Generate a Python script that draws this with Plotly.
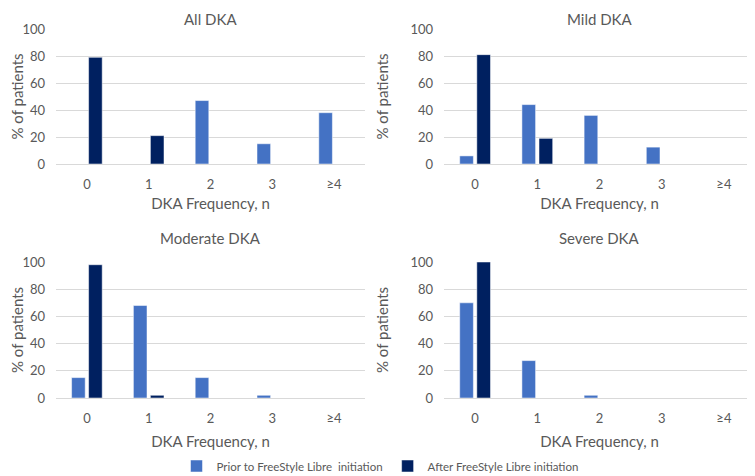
import plotly.graph_objects as go

# ---------------- Data ----------------

categories = ["0", "1", "2", "3", "≥4"]

panel_titles = ["All DKA", "Mild DKA", "Moderate DKA", "Severe DKA"]

prior_all = [0, 0, 47, 15, 38]
after_all = [79, 21, 0, 0, 0]

prior_mild = [6, 44, 36, 12.5, 0]
after_mild = [81, 19, 0, 0, 0]

prior_moderate = [15, 68, 15, 2, 0]
after_moderate = [98, 2, 0, 0, 0]

prior_severe = [70, 27.5, 2, 0, 0]
after_severe = [100, 0, 0, 0, 0]

prior_name = "Prior to FreeStyle Libre  initiation"
after_name = "After FreeStyle Libre initiation"

# ---------------- Style ----------------

PRIOR_COLOR = "#4472C4"
AFTER_COLOR = "#002060"
TEXT = "#595959"
GRID = "#D9D9D9"
FONT = "Lato"

W, H = 755, 476
OFF = 8  # page offset of the plot div (body margin)

# pixel boxes of the four plot areas on the page:
# (x0, x1, y_top, y_bottom, x-title standoff)
boxes = [
    (56, 365, 29, 164, 7),
    (444, 755, 29, 164, 7),
    (56, 365, 262, 398, 11),
    (444, 755, 262, 398, 11),
]


def px(x):
    return min((x - OFF) / W, 1)


def py(y):
    return min((H - (y - OFF)) / H, 1)


series = [
    (prior_all, after_all),
    (prior_mild, after_mild),
    (prior_moderate, after_moderate),
    (prior_severe, after_severe),
]

fig = go.Figure()
layout = {}
annotations = []

for i, ((prior, after), (x0, x1, yt, yb, sx)) in enumerate(zip(series, boxes)):
    n = "" if i == 0 else str(i + 1)
    xa, ya = "x" + n, "y" + n

    fig.add_trace(go.Bar(
        x=categories, y=prior, name=prior_name, xaxis=xa, yaxis=ya,
        marker=dict(color=PRIOR_COLOR, line=dict(color="white", width=0.5)),
        showlegend=(i == 0), legendgroup="prior",
    ))
    fig.add_trace(go.Bar(
        x=categories, y=after, name=after_name, xaxis=xa, yaxis=ya,
        marker=dict(color=AFTER_COLOR, line=dict(color="white", width=0.5)),
        showlegend=(i == 0), legendgroup="after",
    ))

    layout["xaxis" + n] = dict(
        domain=[px(x0), px(x1)], anchor=ya, automargin=False,
        showgrid=False, showline=True, linecolor=GRID, linewidth=1,
        ticks="", ticklabelstandoff=8,
        tickfont=dict(size=13, color=TEXT, family=FONT),
        title=dict(text="DKA Frequency, n", standoff=sx,
                   font=dict(size=15, color=TEXT, family=FONT)),
    )
    layout["yaxis" + n] = dict(
        domain=[py(yb), py(yt)], anchor=xa, automargin=False,
        range=[0, 100], tickvals=[0, 20, 40, 60, 80, 100],
        showgrid=True, gridcolor=GRID, zeroline=False,
        ticks="", ticklabelstandoff=10,
        tickfont=dict(size=13, color=TEXT, family=FONT),
        title=dict(text="% of patients", standoff=18,
                   font=dict(size=15, color=TEXT, family=FONT)),
    )

    # panel titles: top row pinned to the top edge so they are not clipped
    top_row = i < 2
    annotations.append(dict(
        text=panel_titles[i], xref="paper", yref="paper",
        x=(px(x0) + px(x1)) / 2,
        y=1 if top_row else py(yt - 24),
        xanchor="center", yanchor="top" if top_row else "middle",
        showarrow=False,
        font=dict(size=15, color=TEXT, family=FONT),
    ))

fig.update_layout(
    **layout,
    annotations=annotations,
    width=W,
    height=H,
    margin=dict(l=0, r=0, t=0, b=0),
    paper_bgcolor="white",
    plot_bgcolor="white",
    barmode="group",
    bargap=0.45,
    bargroupgap=0.2,
    font=dict(family=FONT, color=TEXT),
    legend=dict(
        orientation="h", x=px(380), xanchor="center", y=py(466), yanchor="middle",
        font=dict(size=11.5, color=TEXT, family=FONT),
        itemwidth=30, traceorder="normal",
    ),
)

fig.write_html("out.html", config={"displayModeBar": False})
